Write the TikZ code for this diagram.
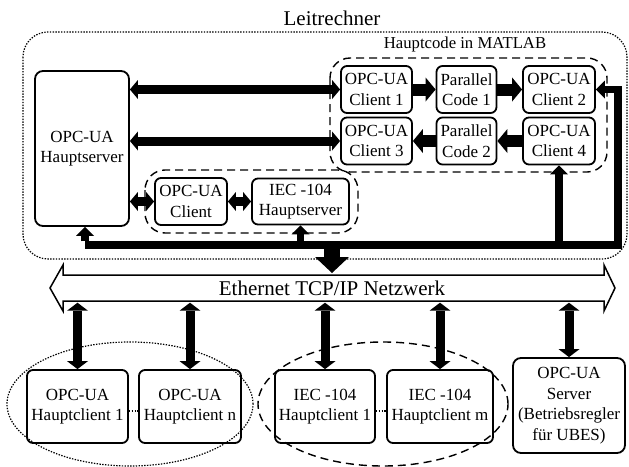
\documentclass[tikz,border=0pt]{standalone}
\usepackage{fontspec}
\setmainfont{Liberation Serif}
\usetikzlibrary{arrows.meta}
\begin{document}
\begin{tikzpicture}[x=1pt,y=-1pt,
  box/.style={draw, line width=1.8pt, rounded corners=6pt, align=center, inner sep=0pt, font=\fontsize{17}{20.5}\selectfont},
  harr/.style={line width=9pt, {Triangle[width=19pt,length=8pt,line width=0pt]}-{Triangle[width=19pt,length=8pt,line width=0pt]}},
  flow/.style={line width=12pt, -{Triangle[width=24pt,length=10pt,line width=0pt]}},
  bus/.style={line width=7.5pt, line join=miter},
  bustip/.style={-{Triangle[width=18pt,length=9pt,line width=0pt]}},
  varr/.style={line width=9pt, {Triangle[width=21pt,length=8pt,line width=0pt]}-{Triangle[width=21pt,length=8pt,line width=0pt]}},
  downarr/.style={line width=16pt, -{Triangle[width=34pt,length=16pt,line width=0pt]}},
  dotbox/.style={line width=1.2pt, dash pattern=on 1.4pt off 1.4pt},
  dashbox/.style={line width=1.4pt, dash pattern=on 8pt off 5pt},
  title/.style={inner sep=0pt}
]
\useasboundingbox (0,0) rectangle (629,466);

% containers
\draw[dotbox, rounded corners=25pt] (23,32) rectangle (627,259);
\draw[dashbox, rounded corners=20pt] (330,58) rectangle (607,172);
\draw[dashbox, rounded corners=20pt] (145,170) rectangle (358,233);
\draw[dotbox] (130,404) ellipse [x radius=123pt, y radius=62pt];
\draw[dashbox] (383,404) ellipse [x radius=125pt, y radius=62pt];

% titles
\node[title, font=\fontsize{21}{24}\selectfont] (lr) at (332,18) {Leitrechner};
\node[title, font=\fontsize{16.7}{20}\selectfont] (hm) at (465,44) {Hauptcode in MATLAB};

% upper boxes
\node[box, rounded corners=8pt, minimum width=94pt, minimum height=155pt] (hs) at (82,148.5) {OPC-UA\\Hauptserver};
\node[box, minimum width=71pt, minimum height=47pt] (c1) at (376.5,89.5) {OPC-UA\\Client 1};
\node[box, minimum width=60pt, minimum height=47pt] (p1) at (466.5,89.5) {Parallel\\Code 1};
\node[box, minimum width=72pt, minimum height=47pt] (c2) at (559,89.5) {OPC-UA\\Client 2};
\node[box, minimum width=71pt, minimum height=47pt] (c3) at (376.5,141) {OPC-UA\\Client 3};
\node[box, minimum width=60pt, minimum height=47pt] (p2) at (466.5,141) {Parallel\\Code 2};
\node[box, minimum width=72pt, minimum height=47pt] (c4) at (559,141) {OPC-UA\\Client 4};
\node[box, minimum width=72pt, minimum height=47pt] (oc) at (191,201.5) {OPC-UA\\Client};
\node[box, minimum width=97pt, minimum height=46pt] (ihs) at (300.5,201.5) {IEC -104\\Hauptserver};

% lower boxes
\node[box, minimum width=101pt, minimum height=73pt] (b1) at (77.5,406.5) {OPC-UA\\Hauptclient 1};
\node[box, minimum width=102pt, minimum height=73pt] (bn) at (190,406.5) {OPC-UA\\Hauptclient n};
\node[box, minimum width=100pt, minimum height=73pt] (i1) at (325,406.5) {IEC -104\\Hauptclient 1};
\node[box, minimum width=106pt, minimum height=73pt] (im) at (440,406.5) {IEC -104\\Hauptclient m};
\node[box, rounded corners=8pt, minimum width=112pt, minimum height=95pt] (srv) at (569,405.5) {OPC-UA\\Server\\(Betriebsregler\\f\"ur UBES)};

% arrows in Leitrechner
\draw[harr] (hs.east |- c1.west) -- (c1.west);
\draw[harr] (hs.east |- c3.west) -- (c3.west);
\draw[harr] (hs.east |- oc.west) -- (oc.west);
\draw[harr] (oc.east) -- (ihs.west);
\draw[flow] (c1) -- (p1);
\draw[flow] (p1) -- (c2);
\draw[flow] (c4) -- (p2);
\draw[flow] (p2) -- (c3);

% bus
\coordinate (busL) at (85,245);
\coordinate (busR) at (618,245);
\draw[bus, bustip] (busL) -- (busR) |- (c2.east);
\draw[bus, bustip] ([yshift=3.75pt]busL) -- (busL |- hs.south);
\draw[bus, bustip] (ihs.south |- busL) -- (ihs.south);
\draw[bus, bustip] (c4.south |- busL) -- (c4.south);

% Ethernet
\draw[line width=1.5pt, fill=white, line join=miter] (50,288) -- (63,265) -- (63,275) -- (604,275) -- (604,265) -- (615,288) -- (604,311) -- (604,301) -- (63,301) -- (63,311) -- cycle;
\node[inner sep=0pt, minimum width=541pt, minimum height=26pt, font=\fontsize{21}{24}\selectfont] (eth) at (332,288) {Ethernet TCP/IP Netzwerk};
\coordinate (dn) at (332,242);
\draw[downarr] (dn) -- (dn |- 0,273);

% vertical links
\draw[varr, shorten <=1.5pt] (b1.north |- eth.south) -- (b1.north);
\draw[varr, shorten <=1.5pt] (bn.north |- eth.south) -- (bn.north);
\draw[varr, shorten <=1.5pt] (i1.north |- eth.south) -- (i1.north);
\draw[varr, shorten <=1.5pt] (im.north |- eth.south) -- (im.north);
\draw[varr, shorten <=1.5pt] (srv.north |- eth.south) -- (srv.north);

% dotted continuations
\draw[line width=1.3pt, dash pattern=on 1.3pt off 1.5pt] ([yshift=-4.5pt]b1.east) -- ([yshift=-4.5pt]bn.west);
\draw[line width=1.3pt, dash pattern=on 1.3pt off 1.5pt] ([yshift=-4.5pt]i1.east) -- ([yshift=-4.5pt]im.west);
\end{tikzpicture}
\end{document}
